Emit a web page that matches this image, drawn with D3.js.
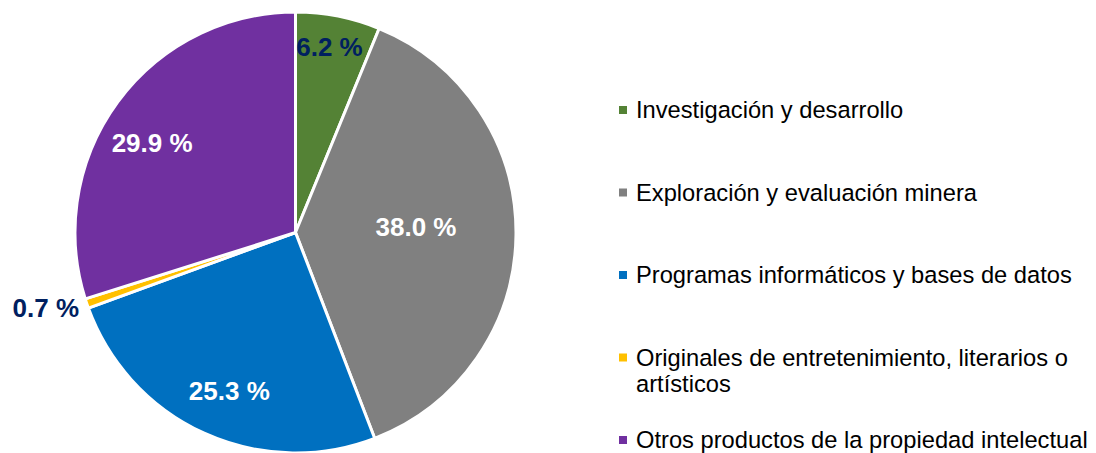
<!DOCTYPE html>
<html>
<head>
<meta charset="utf-8">
<script src="https://cdn.jsdelivr.net/npm/d3@7"></script>
<style>
  html, body { margin: 0; padding: 0; background: #fff; }
  svg { display: block; font-family: Arial, "Liberation Sans", sans-serif; }
</style>
</head>
<body>
<svg id="chart" width="1096" height="453"></svg>
<script>
const categories = [
  'Investigación y desarrollo',
  'Exploración y evaluación minera',
  'Programas informáticos y bases de datos',
  'Originales de entretenimiento, literarios o artísticos',
  'Otros productos de la propiedad intelectual'
];
const values = [6.2, 38.0, 25.3, 0.7, 29.9];
const labels = ['6.2 %', '38.0 %', '25.3 %', '0.7 %', '29.9 %'];
const legendLines = [
  ['Investigación y desarrollo'],
  ['Exploración y evaluación minera'],
  ['Programas informáticos y bases de datos'],
  ['Originales de entretenimiento, literarios o', 'artísticos'],
  ['Otros productos de la propiedad intelectual']
];

const colors = ['#548235', '#808080', '#0070C0', '#FFC000', '#7030A0'];
// label placement: fraction of radius, and nudge in degrees from the slice middle
const labelRadius = [0.857, 0.547, 0.779, 1.183, 0.767];
const labelNudge = [-0.8, -3.5, -1.8, 2.0, -4.2];
const labelColor = ['#002060', '#fff', '#fff', '#002060', '#fff'];

const svg = d3.select('#chart');
const cx = 295.5, cy = 232.5, r = 220.5;

const pie = d3.pie().sort(null).value(d => d)(values);
const arc = d3.arc().innerRadius(0).outerRadius(r);

const g = svg.append('g').attr('transform', `translate(${cx},${cy})`);

g.selectAll('path')
  .data(pie)
  .enter()
  .append('path')
  .attr('d', arc)
  .attr('fill', (d, i) => colors[i])
  .attr('stroke', '#fff')
  .attr('stroke-width', 3)
  .attr('stroke-linejoin', 'round');

g.selectAll('text.lbl')
  .data(pie)
  .enter()
  .append('text')
  .attr('class', 'lbl')
  .attr('transform', (d, i) => {
    const a = (d.startAngle + d.endAngle) / 2 + labelNudge[i] * Math.PI / 180;
    const rr = r * labelRadius[i];
    return `translate(${Math.sin(a) * rr},${-Math.cos(a) * rr})`;
  })
  .attr('text-anchor', 'middle')
  .attr('dy', '0.35em')
  .attr('fill', (d, i) => labelColor[i])
  .style('font-size', '26px')
  .style('font-weight', 'bold')
  .text((d, i) => labels[i]);

// legend
const legendY = d3.scaleLinear().domain([0, 4]).range([110, 440]);
const leg = svg.append('g');
categories.forEach((c, i) => {
  const y = legendY(i);
  leg.append('rect')
    .attr('x', 619).attr('y', y - 4)
    .attr('width', 8).attr('height', 8)
    .attr('fill', colors[i]);
  const t = leg.append('text')
    .attr('x', 636).attr('y', y)
    .attr('fill', '#000')
    .style('font-size', '23.7px');
  legendLines[i].forEach((line, j) => {
    t.append('tspan').attr('x', 636).attr('dy', j === 0 ? '0.35em' : 26).text(line);
  });
});
</script>
</body>
</html>
